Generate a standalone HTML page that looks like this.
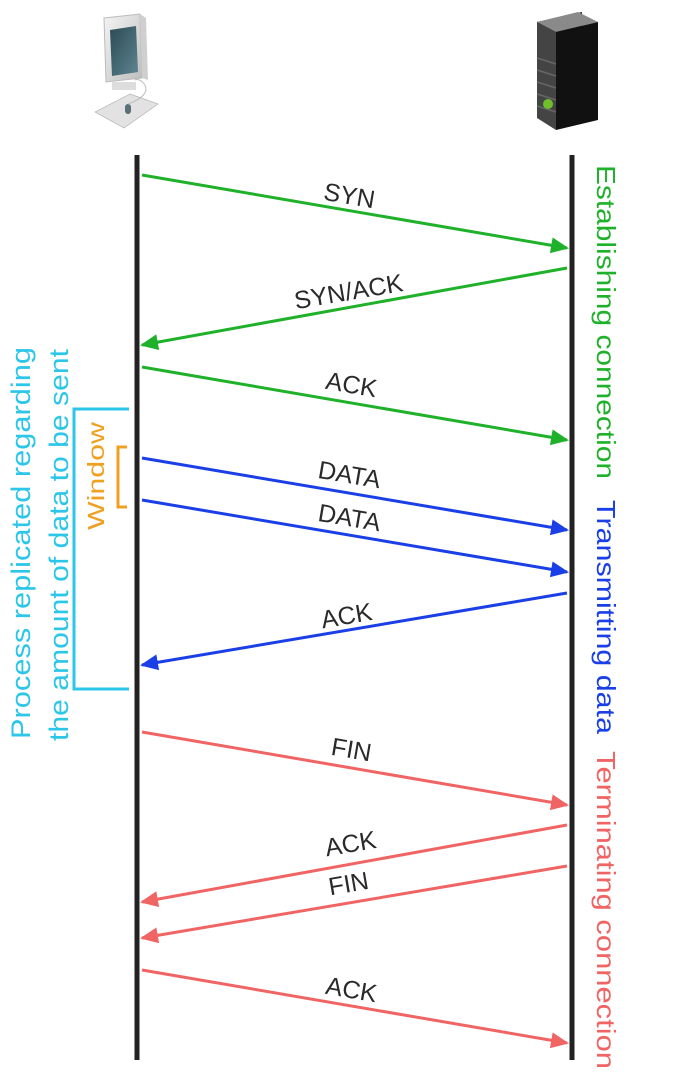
<!DOCTYPE html>
<html><head><meta charset="utf-8"><style>
html,body{margin:0;padding:0;background:#fff;}
svg{display:block;}
text{font-family:"Liberation Sans","DejaVu Sans",sans-serif;}
</style></head><body>
<svg width="678" height="1088" viewBox="0 0 678 1088" xmlns="http://www.w3.org/2000/svg">
<defs>
<marker id="g" markerWidth="18" markerHeight="16" refX="16" refY="8" orient="auto" markerUnits="userSpaceOnUse"><path d="M0,0 L18,8 L0,16 Z" fill="#1fb12a"/></marker>
<marker id="b" markerWidth="18" markerHeight="16" refX="16" refY="8" orient="auto" markerUnits="userSpaceOnUse"><path d="M0,0 L18,8 L0,16 Z" fill="#1a3fe6"/></marker>
<marker id="r" markerWidth="18" markerHeight="16" refX="16" refY="8" orient="auto" markerUnits="userSpaceOnUse"><path d="M0,0 L18,8 L0,16 Z" fill="#f06464"/></marker>
<linearGradient id="mon" x1="0" y1="0" x2="1" y2="1"><stop offset="0" stop-color="#f4f4f4"/><stop offset="1" stop-color="#bdbdbd"/></linearGradient>
<linearGradient id="scr" x1="0" y1="0" x2="1" y2="1"><stop offset="0" stop-color="#2c4a55"/><stop offset="1" stop-color="#5d8590"/></linearGradient>
</defs>
<g>
<polygon points="104,18 140,14 142,78 106,82" fill="url(#mon)" stroke="#bbb"/>
<polygon points="140,14 146,18 148,80 142,78" fill="#cfcfcf"/>
<polygon points="110,30 136,26 138,72 112,76" fill="url(#scr)"/>
<rect x="112" y="82" width="24" height="8" fill="#ddd"/>
<polygon points="95,112 130,94 158,104 124,128" fill="#e2e2e2" stroke="#aaa" stroke-width="0.6"/>
<rect x="125" y="104" width="6" height="10" rx="3" fill="#5a6f78"/>
<path d="M128,104 Q150,96 145,85 Q140,78 135,80" stroke="#bbb" fill="none"/>
</g>
<g>
<polygon points="537,22 582,12 584,92 541,96" fill="#222"/>
<polygon points="537,22 578,12 598,22 556,32" fill="#8a8a8a"/>
<polygon points="556,32 598,22 598,120 556,130" fill="#111"/>
<polygon points="537,22 556,32 556,130 537,118" fill="#444"/>
<g stroke="#666" stroke-width="1.5"><line x1="537" y1="58" x2="556" y2="64"/><line x1="537" y1="70" x2="556" y2="76"/><line x1="537" y1="82" x2="556" y2="88"/><line x1="537" y1="94" x2="556" y2="100"/><line x1="537" y1="106" x2="556" y2="112"/></g>
<circle cx="548" cy="104" r="5" fill="#6fbf2a"/>
</g>
<line x1="137" y1="155" x2="137" y2="1060" stroke="#222" stroke-width="5"/>
<line x1="572" y1="155" x2="572" y2="1060" stroke="#222" stroke-width="5"/>
<g stroke="#1fb12a" stroke-width="3" fill="none">
<line x1="142" y1="175" x2="567" y2="248" marker-end="url(#g)"/>
<line x1="567" y1="268" x2="142" y2="345" marker-end="url(#g)"/>
<line x1="142" y1="367" x2="567" y2="440" marker-end="url(#g)"/>
</g>
<g stroke="#1a3fe6" stroke-width="3" fill="none">
<line x1="142" y1="458" x2="567" y2="530" marker-end="url(#b)"/>
<line x1="142" y1="500" x2="567" y2="572" marker-end="url(#b)"/>
<line x1="567" y1="593" x2="142" y2="665" marker-end="url(#b)"/>
</g>
<g stroke="#f06464" stroke-width="3" fill="none">
<line x1="142" y1="732" x2="567" y2="805" marker-end="url(#r)"/>
<line x1="567" y1="825" x2="142" y2="902" marker-end="url(#r)"/>
<line x1="567" y1="866" x2="142" y2="938" marker-end="url(#r)"/>
<line x1="142" y1="970" x2="567" y2="1043" marker-end="url(#r)"/>
</g>
<g font-size="25" fill="#2a2a2a" text-anchor="middle">
<text transform="translate(348,204) rotate(9.7)">SYN</text>
<text transform="translate(350,300) rotate(-9.7)">SYN/ACK</text>
<text transform="translate(350,393) rotate(9.7)">ACK</text>
<text transform="translate(348,483) rotate(9.7)">DATA</text>
<text transform="translate(348,526) rotate(9.7)">DATA</text>
<text transform="translate(348,624) rotate(-9.7)">ACK</text>
<text transform="translate(350,758) rotate(9.7)">FIN</text>
<text transform="translate(352,852) rotate(-9.7)">ACK</text>
<text transform="translate(350,892) rotate(-9.7)">FIN</text>
<text transform="translate(350,998) rotate(9.7)">ACK</text>
</g>
<g font-size="26" text-anchor="middle">
<text transform="translate(597,322) rotate(90)" fill="#1fb12a" textLength="314" lengthAdjust="spacingAndGlyphs">Establishing connection</text>
<text transform="translate(597,617) rotate(90)" fill="#1a3fe6" textLength="234" lengthAdjust="spacingAndGlyphs">Transmitting data</text>
<text transform="translate(597,910) rotate(90)" fill="#f06464" textLength="318" lengthAdjust="spacingAndGlyphs">Terminating connection</text>
</g>
<g font-size="27" text-anchor="middle" fill="#2bc6e8">
<text transform="translate(30,543) rotate(-90)" textLength="392" lengthAdjust="spacingAndGlyphs">Process replicated regarding</text>
<text transform="translate(68,545) rotate(-90)" textLength="392" lengthAdjust="spacingAndGlyphs">the amount of data to be sent</text>
</g>
<polyline points="129,409 74,409 74,689 129,689" fill="none" stroke="#2bc6e8" stroke-width="3"/>
<polyline points="127,447 118,447 118,507 127,507" fill="none" stroke="#f0a020" stroke-width="3"/>
<text transform="translate(104,476) rotate(-90)" font-size="23" text-anchor="middle" fill="#f0a020" textLength="108" lengthAdjust="spacingAndGlyphs">Window</text>
</svg>
</body></html>
